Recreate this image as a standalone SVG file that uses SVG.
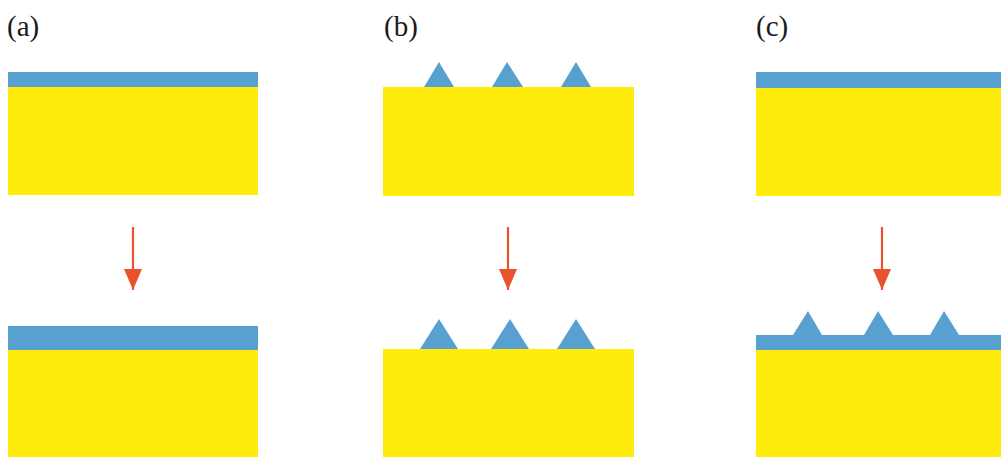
<svg xmlns="http://www.w3.org/2000/svg" width="1001" height="457" viewBox="0 0 1001 457">
<style>
.sub{fill:#ffec0c}
.film{fill:#58a0cf}
.lbl{font-family:'Liberation Serif','Times New Roman',serif;font-size:29px;fill:#1a1a1a}
.arr{stroke:#e8532d;stroke-width:2.2;fill:none}
</style>
<defs>
<marker id="ah" markerWidth="21" markerHeight="18" refX="21" refY="9" orient="auto" markerUnits="userSpaceOnUse" viewBox="0 0 21 18">
<path d="M0,0 L21,9 L0,18 Z" fill="#e8532d"/>
</marker>
</defs>
<rect width="1001" height="457" fill="#fff"/>
<g id="panel-a">
<text class="lbl" x="7" y="36" font-family="Liberation Serif, serif">(a)</text>
<g id="a-top"><rect class="sub" x="8" y="87" width="250" height="108"/><rect class="film" x="8" y="72" width="250" height="15"/></g>
<g id="a-bottom"><rect class="sub" x="8" y="350" width="250" height="107"/><rect class="film" x="8" y="326" width="250" height="24"/></g>
</g>
<g id="panel-b">
<text class="lbl" x="384" y="36" font-family="Liberation Serif, serif">(b)</text>
<g id="b-top"><rect class="sub" x="383" y="87" width="251" height="109"/>
<polygon class="film" points="424,87 439,62 454,87"/>
<polygon class="film" points="492,87 507,62 523,87"/>
<polygon class="film" points="561,87 576,62 591,87"/></g>
<g id="b-bottom"><rect class="sub" x="383" y="349" width="251" height="108"/>
<polygon class="film" points="420,349 439,319 458,349"/>
<polygon class="film" points="491,349 510,319 529,349"/>
<polygon class="film" points="557,349 576,319 595,349"/></g>
</g>
<g id="panel-c">
<text class="lbl" x="756" y="36" font-family="Liberation Serif, serif">(c)</text>
<g id="c-top"><rect class="sub" x="756" y="88" width="245" height="108"/><rect class="film" x="756" y="72" width="245" height="16"/></g>
<g id="c-bottom"><rect class="sub" x="756" y="350" width="245" height="107"/>
<path class="film" d="M756,335 L793,335 L808,311 L822,335 L864,335 L878,311 L893,335 L930,335 L944,311 L959,335 L1001,335 L1001,350 L756,350 Z"/></g>
</g>
<g id="connectors">
<line class="arr" x1="133" y1="227" x2="133" y2="290" marker-end="url(#ah)"/>
<line class="arr" x1="508" y1="227" x2="508" y2="290" marker-end="url(#ah)"/>
<line class="arr" x1="882" y1="227" x2="882" y2="290" marker-end="url(#ah)"/>
</g>
</svg>
